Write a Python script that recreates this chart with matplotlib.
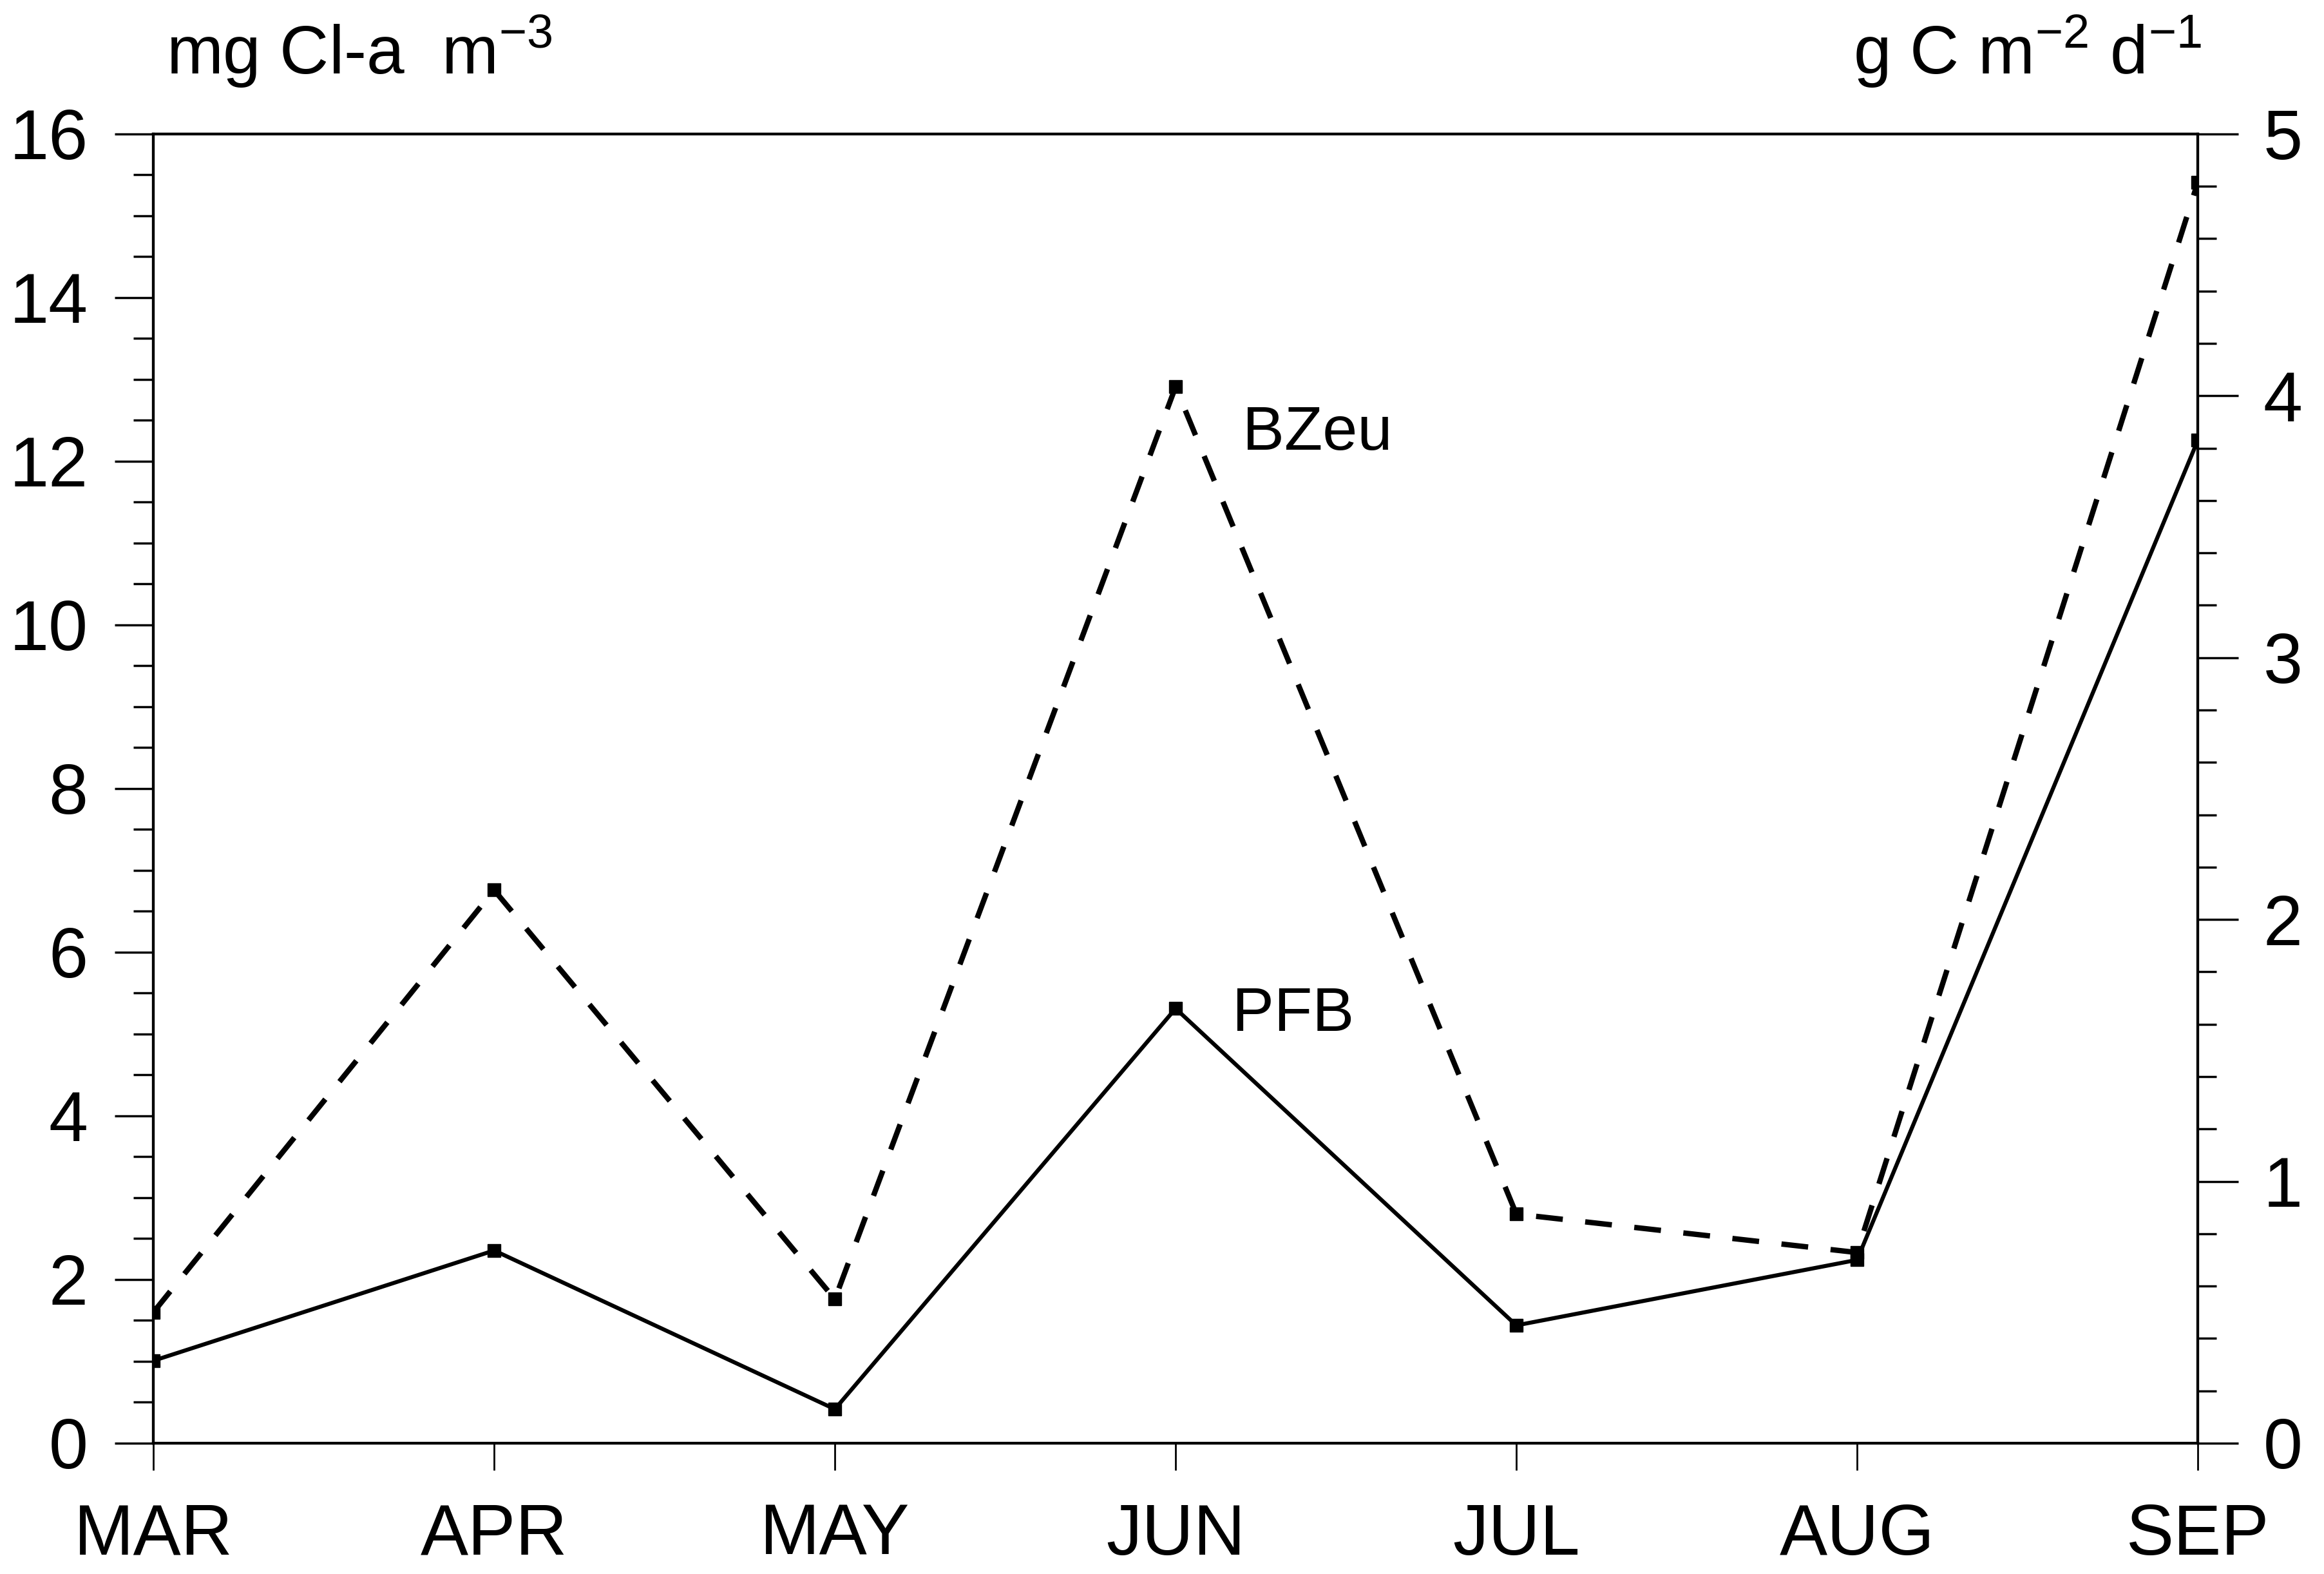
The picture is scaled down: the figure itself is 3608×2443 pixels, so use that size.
import matplotlib
matplotlib.use('Agg')
import matplotlib.pyplot as plt
from matplotlib.ticker import MultipleLocator

plt.rcParams['font.family'] = ['Liberation Sans', 'DejaVu Sans']
plt.rcParams['mathtext.fontset'] = 'custom'
plt.rcParams['mathtext.rm'] = 'Liberation Sans'
plt.rcParams['mathtext.it'] = 'Liberation Sans:italic'

months = ['MAR', 'APR', 'MAY', 'JUN', 'JUL', 'AUG', 'SEP']
# BZeu, left axis (mg Cl-a m-3)
bzeu = [1.60, 6.76, 1.76, 12.91, 2.80, 2.33, 15.41]
# PFB, right axis (g C m-2 d-1)
pfb = [0.315, 0.736, 0.13, 1.66, 0.45, 0.70, 3.83]

x = list(range(len(months)))

fig = plt.figure(figsize=(36.08, 24.43), dpi=100)
ax = fig.add_axes([0.066, 0.0831, 0.8797, 0.8318])
ax2 = ax.twinx()

ax.plot(x, bzeu, color='k', lw=6, dashes=(5, 4.2), marker='s', ms=15,
        mfc='k', mec='k', zorder=3)
ax2.plot(x, pfb, color='k', lw=4.5, marker='s', ms=15,
         mfc='k', mec='k', zorder=3)

ax.set_xlim(0, 6)
ax.set_ylim(0, 16)
ax2.set_ylim(0, 5)

ax.set_xticks(x)
ax.set_xticklabels(months)
ax.set_yticks(range(0, 17, 2))
ax.yaxis.set_minor_locator(MultipleLocator(0.5))
ax2.set_yticks(range(0, 6))
ax2.yaxis.set_minor_locator(MultipleLocator(0.2))

ax.tick_params(axis='x', direction='out', length=30, width=2, pad=36,
               labelsize=80)
ax.tick_params(axis='y', which='major', direction='out', length=43, width=2.5,
               pad=30, labelsize=79)
ax.tick_params(axis='y', which='minor', direction='out', length=22, width=2.5)
ax2.tick_params(axis='y', which='major', direction='out', length=45, width=2.5,
                pad=28, labelsize=79)
ax2.tick_params(axis='y', which='minor', direction='out', length=21, width=2.5)

for a in (ax, ax2):
    for s in a.spines.values():
        s.set_linewidth(3)

fig.text(258 / 3608, 1 - 115 / 2443, 'mg Cl-a  m$^{-3}$', ha='left',
         va='baseline', fontsize=76)
fig.text(3418 / 3608, 1 - 115 / 2443, 'g C m$^{-2}$ d$^{-1}$', ha='right',
         va='baseline', fontsize=76)

ax.annotate('BZeu', xy=(3, bzeu[3]), xytext=(75, -70),
            textcoords='offset points', va='baseline', fontsize=70)
ax2.annotate('PFB', xy=(3, pfb[3]), xytext=(63, -25),
             textcoords='offset points', va='baseline', fontsize=70)

fig.savefig('out.png', dpi=100, facecolor='white')
